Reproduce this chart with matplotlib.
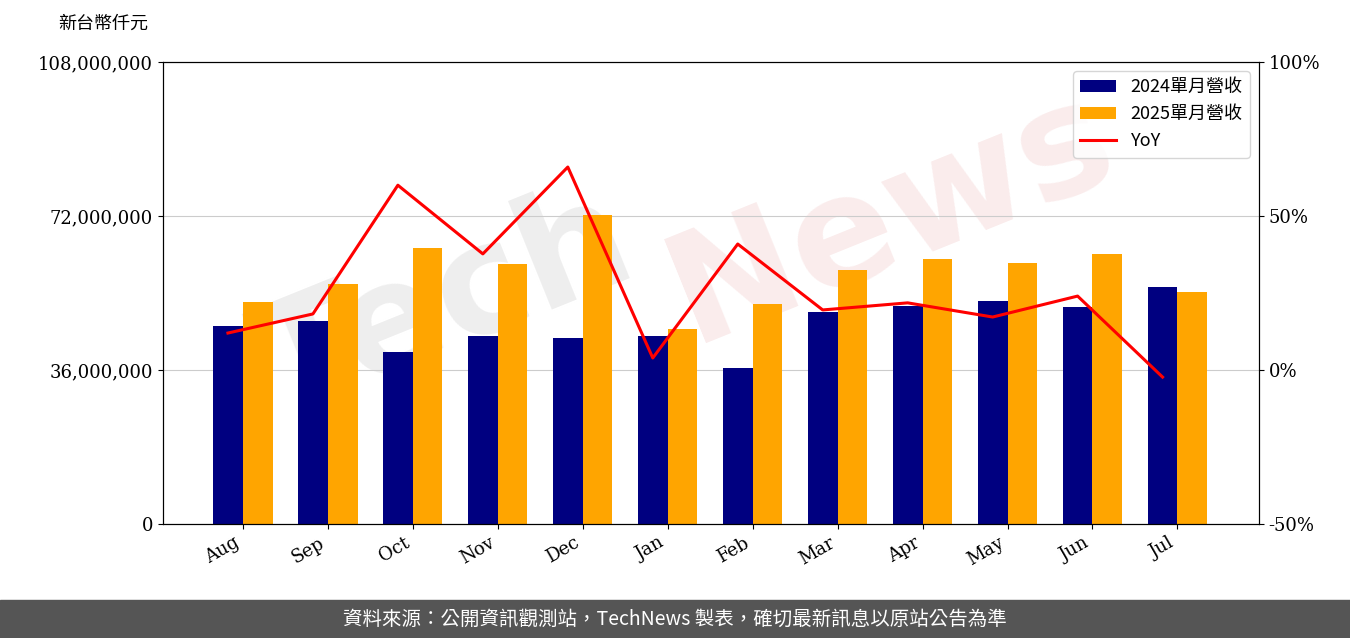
import matplotlib
matplotlib.use("Agg")
import matplotlib.pyplot as plt
import numpy as np
from matplotlib.ticker import FuncFormatter

months = ["Aug","Sep","Oct","Nov","Dec","Jan","Feb","Mar","Apr","May","Jun","Jul"]
rev2024 = [46.3,47.5,40.2,43.9,43.5,43.9,36.5,49.6,51.0,52.1,50.7,55.4]
rev2025 = [51.9,56.1,64.5,60.8,72.2,45.6,51.4,59.4,61.9,61.0,63.1,54.2]
yoy = [12.0,18.2,60.0,37.7,65.9,3.9,40.9,19.5,21.8,17.2,24.0,-2.3]

cjk = ['Noto Sans CJK TC','DejaVu Serif']
plt.rcParams['font.family'] = ['DejaVu Serif','Noto Sans CJK TC']

fig = plt.figure(figsize=(13.5,6.38), dpi=100)
fig.text(0.33,0.52,'Tech', fontsize=110, color='#bbbbbb', alpha=0.25, rotation=22,
         ha='center', va='center', fontweight='bold', family='DejaVu Sans', zorder=-2)
fig.text(0.66,0.66,'News', fontsize=110, color='#e8a0a0', alpha=0.2, rotation=22,
         ha='center', va='center', fontweight='bold', family='DejaVu Sans', zorder=-2)
ax = fig.add_axes([0.1207,0.1787,0.8119,0.7241])
ax.patch.set_alpha(0)
x = np.arange(len(months))
w = 0.35
a = np.array(rev2024)*1e6; b = np.array(rev2025)*1e6
ax.bar(x-w/2, a, w, color='#000080', label='2024單月營收', zorder=2)
ax.bar(x+w/2, b, w, color='#FFA500', label='2025單月營收', zorder=2)
ax.set_ylim(0,108e6); ax.set_yticks([0,36e6,72e6,108e6])
ax.yaxis.set_major_formatter(FuncFormatter(lambda v,p: f"{int(v):,}"))
ax.grid(axis='y', color='#cccccc', zorder=0)
ax.set_xlim(-0.94,11.96)
ax.set_xticks(x)
ax.set_xticklabels(months, rotation=30, ha='right', fontsize=13)
ax.tick_params(axis='y', labelsize=13)
ax2 = ax.twinx()
ax2.plot(x-w/2, yoy, color='red', lw=2.2, label='YoY')
ax2.set_ylim(-50,100); ax2.set_yticks([-50,0,50,100])
ax2.yaxis.set_major_formatter(FuncFormatter(lambda v,p: f"{int(v)}%"))
ax2.tick_params(axis='y', labelsize=13)
h1,l1 = ax.get_legend_handles_labels(); h2,l2 = ax2.get_legend_handles_labels()
ax2.legend(h1+h2, l1+l2, loc='upper right', prop={'family':cjk,'size':13})
fig.text(0.043,0.955,'新台幣仟元', family=cjk, fontsize=13)
fig.patches.append(matplotlib.patches.Rectangle((0,0),1,0.059,transform=fig.transFigure,color='#555555',zorder=-1))
fig.text(0.5,0.029,'資料來源：公開資訊觀測站，TechNews 製表，確切最新訊息以原站公告為準', family=['Noto Sans CJK TC','DejaVu Sans'],
         color='white', fontsize=14, ha='center', va='center')
fig.savefig('out.png', dpi=100)
